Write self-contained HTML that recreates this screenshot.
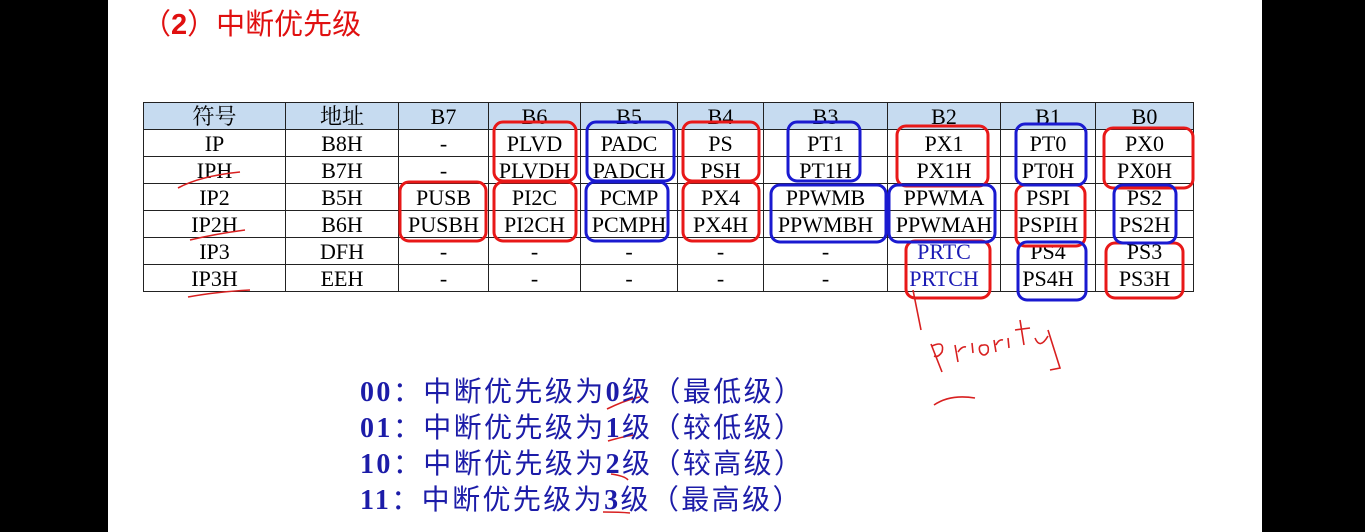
<!DOCTYPE html>
<html><head><meta charset="utf-8"><style>
body{margin:0;width:1365px;height:532px;background:#000;position:relative;overflow:hidden}
#w{position:absolute;left:108px;top:0;width:1154px;height:532px;background:#fff}
.t{position:absolute;left:142px;top:5px;color:#e01010;font:29px "Liberation Sans","Noto Sans CJK SC",sans-serif;line-height:40px}
table{position:absolute;left:143px;top:102px;border-collapse:collapse;font:22px "Liberation Serif","Noto Serif CJK SC",serif;color:#000}
td{border:1px solid #222;height:25px;padding:1px 0 0 0;text-align:center;line-height:25px;overflow:hidden;white-space:nowrap}
tr.h td{background:#c6dbf0}
.b{color:#1a1ab4}
.l{position:absolute;left:360px;color:#1c1ca8;font:28px "Noto Sans CJK SC",sans-serif;line-height:36px;white-space:nowrap;letter-spacing:2.4px}
.l b{font-family:"Liberation Serif",serif}
svg{position:absolute;left:0;top:0}
</style></head><body>
<div id="w"></div>
<div class="t">（<b>2</b>）中断优先级</div>
<table>
<colgroup><col style="width:142px"><col style="width:113px"><col style="width:90px"><col style="width:92px"><col style="width:97px"><col style="width:86px"><col style="width:124px"><col style="width:113px"><col style="width:95px"><col style="width:98px"></colgroup>
<tr class="h"><td>符号</td><td>地址</td><td>B7</td><td>B6</td><td>B5</td><td>B4</td><td>B3</td><td>B2</td><td>B1</td><td>B0</td></tr>
<tr><td>IP</td><td>B8H</td><td>-</td><td>PLVD</td><td>PADC</td><td>PS</td><td>PT1</td><td>PX1</td><td>PT0</td><td>PX0</td></tr>
<tr><td>IPH</td><td>B7H</td><td>-</td><td>PLVDH</td><td>PADCH</td><td>PSH</td><td>PT1H</td><td>PX1H</td><td>PT0H</td><td>PX0H</td></tr>
<tr><td>IP2</td><td>B5H</td><td>PUSB</td><td>PI2C</td><td>PCMP</td><td>PX4</td><td>PPWMB</td><td>PPWMA</td><td>PSPI</td><td>PS2</td></tr>
<tr><td>IP2H</td><td>B6H</td><td>PUSBH</td><td>PI2CH</td><td>PCMPH</td><td>PX4H</td><td>PPWMBH</td><td>PPWMAH</td><td>PSPIH</td><td>PS2H</td></tr>
<tr><td>IP3</td><td>DFH</td><td>-</td><td>-</td><td>-</td><td>-</td><td>-</td><td class="b">PRTC</td><td>PS4</td><td>PS3</td></tr>
<tr><td>IP3H</td><td>EEH</td><td>-</td><td>-</td><td>-</td><td>-</td><td>-</td><td class="b">PRTCH</td><td>PS4H</td><td>PS3H</td></tr>
</table>
<svg width="1365" height="532" fill="none" stroke-width="3">
<g stroke="#e81818">
<rect x="494" y="122" width="82" height="59" rx="9"/>
<rect x="683" y="122" width="76" height="59" rx="9"/>
<rect x="897" y="126" width="91" height="60" rx="9"/>
<rect x="1104" y="128" width="89" height="60" rx="9"/>
<rect x="400" y="182" width="86" height="59" rx="9"/>
<rect x="494" y="182" width="82" height="59" rx="9"/>
<rect x="683" y="182" width="76" height="59" rx="9"/>
<rect x="1016" y="185" width="69" height="61" rx="9"/>
<rect x="906" y="241" width="84" height="57" rx="9"/>
<rect x="1106" y="243" width="77" height="55" rx="9"/>
</g>
<g stroke="#1a1ad0">
<rect x="587" y="122" width="87" height="59" rx="9"/>
<rect x="788" y="122" width="72" height="59" rx="9"/>
<rect x="1016" y="124" width="70" height="61" rx="9"/>
<rect x="586" y="182" width="82" height="59" rx="9"/>
<rect x="771" y="185" width="115" height="57" rx="9"/>
<rect x="889" y="185" width="106" height="57" rx="9"/>
<rect x="1114" y="185" width="62" height="58" rx="9"/>
<rect x="1018" y="242" width="68" height="58" rx="9"/>
</g>
<g stroke="#d82020" stroke-width="1.6">
<path d="M178 188 Q200 176 240 172"/><path d="M190 240 Q215 234 245 230"/><path d="M188 297 Q215 292 250 290"/>
<path d="M913 290 L921 330"/>
<path d="M931 344 L942 372 M932 346 Q945 340 942 352 Q938 358 934 356"/>
<path d="M955 345 L958 362 M958 352 Q962 346 966 347"/>
<path d="M972 343 L973 353"/>
<path d="M980 346 Q990 342 988 352 Q984 358 980 352 Q978 346 982 345"/>
<path d="M994 340 L996 352 M996 345 Q999 339 1003 340"/>
<path d="M1008 338 L1009 348"/>
<path d="M1020 320 L1024 345 M1015 330 L1030 328"/>
<path d="M1035 338 Q1040 350 1048 336 M1048 330 L1060 368 L1050 370"/>
<path d="M934 405 Q950 394 975 398"/>
<path d="M607 409 Q625 400 640 397"/><path d="M608 441 Q625 436 635 435"/>
<path d="M611 474 Q625 476 628 480"/><path d="M603 512 Q620 512 630 513"/>
</g>
</svg>
<div class="l" style="top:372px"><b>00</b>：中断优先级为<b>0</b>级（最低级）</div>
<div class="l" style="top:408px"><b>01</b>：中断优先级为<b>1</b>级（较低级）</div>
<div class="l" style="top:444px"><b>10</b>：中断优先级为<b>2</b>级（较高级）</div>
<div class="l" style="top:480px"><b>11</b>：中断优先级为<b>3</b>级（最高级）</div>
</body></html>
